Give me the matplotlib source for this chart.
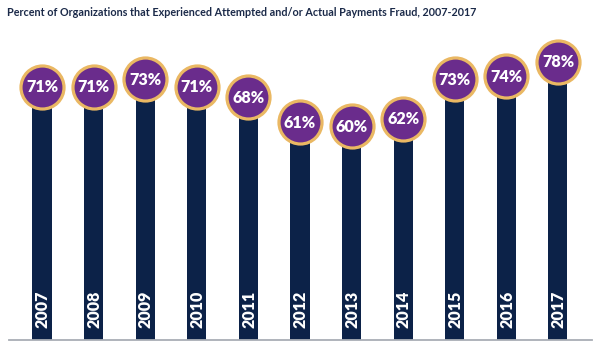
import matplotlib
matplotlib.use("Agg")
import matplotlib.pyplot as plt
import matplotlib.transforms as mtransforms
from matplotlib import font_manager

years = ["2007", "2008", "2009", "2010", "2011", "2012",
         "2013", "2014", "2015", "2016", "2017"]
percents = [71, 71, 73, 71, 68, 61, 60, 62, 73, 74, 78]
title = "Percent of Organizations that Experienced Attempted and/or Actual Payments Fraud, 2007-2017"

NAVY = "#0c2248"
PURPLE = "#6a2c8c"
GOLD = "#eab863"
GRID_GRAY = "#a9aeb5"
TITLE_COLOR = "#1b2a49"
FONT = "Lato"

names = {f.name for f in font_manager.fontManager.ttflist}
TITLE_FONT = "Liberation Sans Narrow" if "Liberation Sans Narrow" in names else FONT

W, H = 600, 348
fig = plt.figure(figsize=(W / 100, H / 100), dpi=100)
ax = fig.add_axes([9 / W, 8 / H, 583 / W, 307 / H])

x = list(range(len(years)))
ax.bar(x, percents, width=0.37, color=NAVY, zorder=2)
ax.scatter(x, percents, s=960, color=PURPLE, edgecolor=GOLD,
           linewidth=2.3, zorder=3, clip_on=False)

# value labels inside the circles, centred on the cap height
pct_size = 11.6
cap_pct = 0.72 * pct_size
pct_tr = mtransforms.offset_copy(ax.transData, fig=fig, x=0, y=-cap_pct / 2, units="points")
for xi, v in zip(x, percents):
    ax.text(xi, v, f"{v}%", transform=pct_tr, ha="center", va="baseline",
            color="white", fontsize=pct_size, fontweight="heavy", family=FONT, zorder=4)

# vertical year labels at the foot of each bar
yr_size = 11.5
cap_yr = 0.72 * yr_size
yr_tr = mtransforms.offset_copy(ax.transData, fig=fig, x=cap_yr / 2, y=0, units="points")
for xi, yr in zip(x, years):
    ax.text(xi, 3.3, yr, transform=yr_tr, rotation=90, rotation_mode="anchor",
            ha="left", va="baseline", color="white", fontsize=yr_size,
            fontweight="heavy", family=FONT, zorder=4)

ax.set_xlim(-0.64, 10.66)
ax.set_ylim(0, 86)
for side in ("top", "right", "left"):
    ax.spines[side].set_visible(False)
ax.spines["bottom"].set_color(GRID_GRAY)
ax.spines["bottom"].set_linewidth(1.3)
ax.set_xticks([])
ax.set_yticks([])
ax.patch.set_alpha(0)

t = fig.text(7 / W, 1 - 12 / H, title, ha="left", va="center",
             color=TITLE_COLOR, fontsize=10, fontweight="bold", family=TITLE_FONT)
fig.canvas.draw()
w = t.get_window_extent().width
t.set_fontsize(10 * 468 / w)

fig.savefig("out.png", dpi=100)
